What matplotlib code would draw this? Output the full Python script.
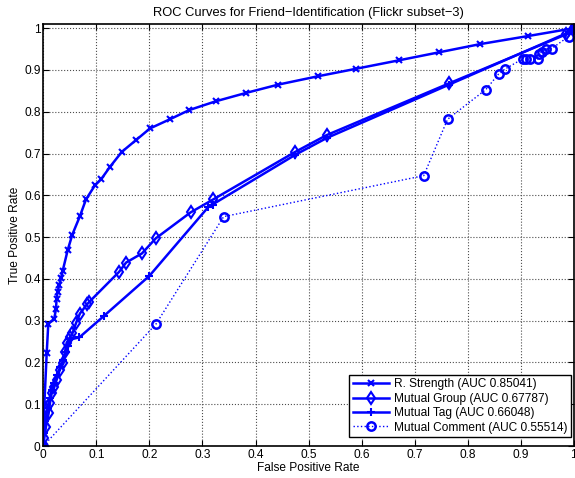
import numpy as np
import matplotlib
matplotlib.use('Agg')
import matplotlib.pyplot as plt

plt.rc('font', family=['Liberation Sans', 'DejaVu Sans'], size=8.6)

# R. Strength
rs_fpr = [0.0, 0.002, 0.0064, 0.0094, 0.0207, 0.024, 0.025, 0.027, 0.030, 0.0333, 0.0365,
          0.046, 0.0547, 0.069, 0.0804, 0.0974, 0.1088, 0.1256, 0.148, 0.1746, 0.201,
          0.2386, 0.275, 0.325, 0.382, 0.443, 0.518, 0.590, 0.670, 0.745, 0.824, 0.913, 1.0]
rs_tpr = [0.0, 0.10, 0.222, 0.292, 0.305, 0.329, 0.353, 0.369, 0.385, 0.401, 0.419,
          0.469, 0.506, 0.550, 0.590, 0.624, 0.638, 0.668, 0.704, 0.732, 0.760,
          0.782, 0.804, 0.825, 0.845, 0.865, 0.885, 0.903, 0.923, 0.942, 0.962, 0.981, 1.0]

# Mutual Group
mg_fpr = [0.0, 0.002, 0.005, 0.010, 0.0126, 0.0158, 0.021, 0.025, 0.031, 0.038, 0.041,
          0.044, 0.051, 0.055, 0.0616, 0.069, 0.083, 0.0867, 0.143, 0.156, 0.186, 0.212,
          0.2775, 0.320, 0.475, 0.534, 0.765, 0.985, 1.0]
mg_tpr = [0.0, 0.02, 0.046, 0.078, 0.103, 0.126, 0.142, 0.158, 0.182, 0.198, 0.226,
          0.247, 0.262, 0.270, 0.294, 0.317, 0.340, 0.345, 0.417, 0.439, 0.461, 0.497,
          0.559, 0.590, 0.704, 0.744, 0.868, 0.985, 1.0]

# Mutual Tag
mt_fpr = [0.0, 0.001, 0.004, 0.008, 0.012, 0.016, 0.020, 0.026, 0.032, 0.037, 0.042,
          0.047, 0.051, 0.068, 0.114, 0.1998, 0.311, 0.319, 0.475, 0.534, 0.765, 0.99, 1.0]
mt_tpr = [0.0, 0.03, 0.060, 0.090, 0.115, 0.135, 0.150, 0.170, 0.190, 0.205, 0.225,
          0.240, 0.255, 0.260, 0.311, 0.407, 0.572, 0.578, 0.697, 0.737, 0.865, 0.99, 1.0]

# Mutual Comment
mc_fpr = [0.0, 0.2124, 0.340, 0.717, 0.762, 0.834, 0.858, 0.870, 0.904, 0.910, 0.918,
          0.932, 0.935, 0.940, 0.948, 0.958, 0.99, 1.0]
mc_tpr = [0.0, 0.292, 0.549, 0.647, 0.782, 0.853, 0.890, 0.902, 0.927, 0.927, 0.927,
          0.927, 0.939, 0.943, 0.951, 0.951, 0.98, 1.0]

fig = plt.figure(figsize=(5.75, 4.78), dpi=100)
ax = fig.add_axes([0.0753, 0.0669, 0.9227, 0.8829])

ax.plot(rs_fpr, rs_tpr, '-x', color='b', lw=1.8, ms=5, mew=1.5,
        label='R. Strength (AUC 0.85041)')
ax.plot(mg_fpr, mg_tpr, '-d', color='b', lw=1.8, ms=6, mew=1.5, mfc='none',
        label='Mutual Group (AUC 0.67787)')
ax.plot(mt_fpr, mt_tpr, '-+', color='b', lw=1.8, ms=6, mew=1.5,
        label='Mutual Tag (AUC 0.66048)')
ax.plot(mc_fpr, mc_tpr, ':o', color='b', lw=1.0, ms=6, mew=1.8, mfc='none',
        label='Mutual Comment (AUC 0.55514)')

ax.set_xlim(0, 1)
ax.set_ylim(0, 1.01)
ax.set_xticks(np.arange(0, 1.01, 0.1))
ax.set_yticks(np.arange(0, 1.01, 0.1))
ax.set_xticklabels(['0'] + ['%.1f' % v for v in np.arange(0.1, 0.95, 0.1)] + ['1'])
ax.set_yticklabels(['0'] + ['%.1f' % v for v in np.arange(0.1, 0.95, 0.1)] + ['1'])
ax.tick_params(direction='in', top=True, right=True, length=4, width=0.8, pad=2)
ax.grid(True, linestyle=':', color='0.3', lw=0.8)
for s in ax.spines.values():
    s.set_linewidth(1.2)

ax.set_xlabel('False Positive Rate', labelpad=1)
ax.set_ylabel('True Positive Rate', labelpad=2)
ax.set_title('ROC Curves for Friend\u2212Identification (Flickr subset\u22123)',
             pad=6, fontsize=9.3)

leg = ax.legend(loc='lower right', bbox_to_anchor=(0.994, 0.021), borderaxespad=0,
                fancybox=False, edgecolor='k', framealpha=1,
                handlelength=3.0, labelspacing=0.2,
                borderpad=0.3, handletextpad=0.4)
leg.get_frame().set_linewidth(1.0)

plt.savefig('out.png', dpi=100)
